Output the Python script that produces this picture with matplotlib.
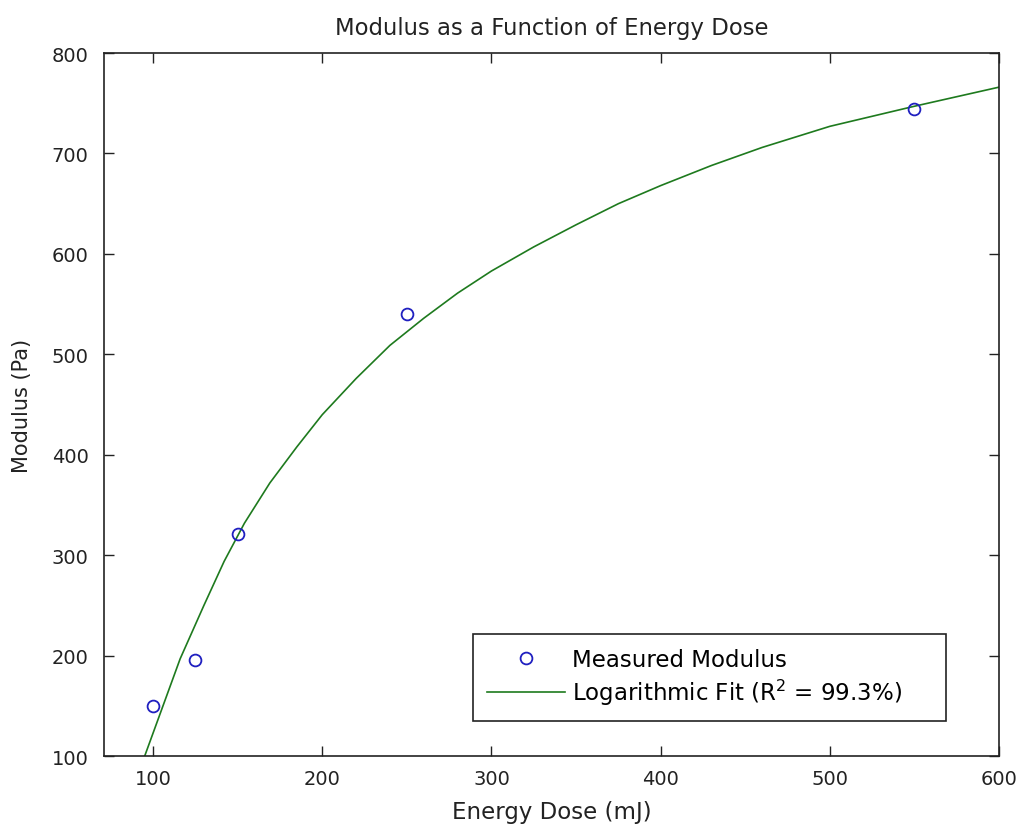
import matplotlib
matplotlib.use("Agg")
import matplotlib.pyplot as plt

# Measured modulus at each energy dose
dose_mj = [100, 125, 150, 250, 550]
modulus_pa = [150, 196, 321, 540, 744]

# Logarithmic fit curve, sampled along the dose axis
fit_dose = [95, 116, 130, 142, 154, 169, 185, 200, 220, 240, 260, 280, 300,
            325, 350, 375, 400, 430, 460, 500, 550, 600]
fit_modulus = [100, 197, 250, 294, 332, 372, 408, 440, 476, 509, 536, 561, 583,
               607, 629, 650, 668, 688, 706, 727, 747, 766]

x_ticks = [100, 200, 300, 400, 500, 600]
y_ticks = [100, 200, 300, 400, 500, 600, 700, 800]

plt.rcParams['font.family'] = ['DejaVu Sans']
plt.rcParams['mathtext.fontset'] = 'dejavusans'

fig = plt.figure(figsize=(10.2, 8.29), dpi=100)
ax = fig.add_axes([104 / 1020, 1 - 757.3 / 829, (999 - 104) / 1020, (757.3 - 54) / 829])

ax.plot(dose_mj, modulus_pa, linestyle='none', marker='o', markersize=8.5,
        markerfacecolor='none', markeredgecolor='#1f1fc0', markeredgewidth=1.3,
        label='Measured Modulus', zorder=3)
ax.plot(fit_dose, fit_modulus, color='#1e7a1e', linewidth=1.2,
        label='Logarithmic Fit (R$^{2}$ = 99.3%)', zorder=2)

ax.set_xlim(71, 600)
ax.set_ylim(100, 800)
ax.set_xticks(x_ticks)
ax.set_yticks(y_ticks)

ax.tick_params(direction='in', length=7, width=1.0, top=True, right=True,
               labelsize=14, colors='#222222', pad=9)
ax.tick_params(axis='y', pad=11)
for s in ax.spines.values():
    s.set_linewidth(1.2)
    s.set_color('#222222')

ax.set_title('Modulus as a Function of Energy Dose', fontsize=16.4, pad=14, color='#222222')
ax.set_xlabel('Energy Dose (mJ)', fontsize=16.5, labelpad=9, color='#222222')
ax.set_ylabel('Modulus (Pa)', fontsize=15, labelpad=14, color='#222222')

leg = ax.legend(loc='lower left', bbox_to_anchor=(0.4123, 0.0506, 0.5285, 0.1237),
                mode='expand', fontsize=16.5,
                frameon=True, fancybox=False, edgecolor='#222222', framealpha=1,
                handlelength=3.4, handletextpad=0.3, borderpad=0.6,
                labelspacing=0.25, borderaxespad=0.0)
leg.get_frame().set_linewidth(1.2)

fig.savefig('out.png', dpi=100, facecolor='white')
